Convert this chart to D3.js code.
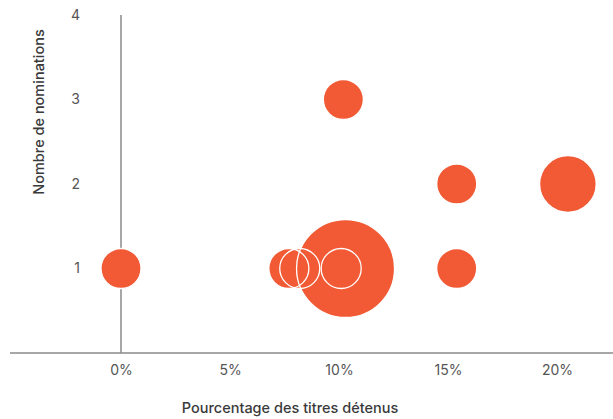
<!DOCTYPE html>
<html>
<head>
    <meta charset="utf-8">
    <script src="https://d3js.org/d3.v7.min.js"></script>
    <style>
        body { margin: 0; background: #fff; }
        svg text { font-family: Inter, Lato, "Noto Sans", sans-serif; }
    </style>
</head>
<body>
    <div id="chart">
        <svg width="613" height="419"></svg>
    </div>
    <script>
        // donnees
        var pourcentages = [0, 7.7, 8.2, 10.3, 10.1, 10.2, 15.4, 15.4, 20.5]
        var nominations = [1, 1, 1, 1, 1, 3, 2, 1, 2]
        var tailles = [1, 1, 1, 6, 1, 1, 1, 1, 2]
        var xTicks = [0, 5, 10, 15, 20]
        var yTicks = [1, 2, 3, 4]

        var data = pourcentages.map(function(p, i) {
            return { pct: p, nom: nominations[i], taille: tailles[i] }
        })

        var svg = d3.select("#chart svg")

        var x = d3.scaleLinear().domain([0, 20]).range([121, 557])
        var y = d3.scaleLinear().domain([0, 4]).range([353, 15])
        var r = d3.scaleSqrt().domain([0, 6]).range([0, 49])

        // axe x (ligne grise sur toute la largeur)
        var xAxis = svg.append("g")
            .attr("transform", "translate(0," + y(0) + ")")
            .call(d3.axisBottom(x).tickValues(xTicks).tickSize(0).tickPadding(12)
                .tickFormat(function(d) { return d + "%" }))
        xAxis.select(".domain").remove()
        xAxis.selectAll("text").style("font-size", "14px").attr("fill", "#555")

        var yAxis = svg.append("g")
            .attr("transform", "translate(" + x(0) + ",0)")
            .call(d3.axisLeft(y).tickValues(yTicks).tickSize(0).tickPadding(41)
                .tickFormat(d3.format("d")))
        yAxis.select(".domain").remove()
        yAxis.selectAll("text").style("font-size", "14px").attr("fill", "#555")

        svg.append("line")
            .attr("x1", 10).attr("x2", 613)
            .attr("y1", y(0)).attr("y2", y(0))
            .attr("stroke", "#8a8a8a").attr("stroke-width", 1.5)
        svg.append("line")
            .attr("x1", x(0)).attr("x2", x(0))
            .attr("y1", y(4)).attr("y2", y(0))
            .attr("stroke", "#8a8a8a").attr("stroke-width", 1.5)

        // bulles : remplissage puis contours blancs par-dessus
        svg.append("g")
            .selectAll("circle")
            .data(data)
            .enter()
            .append("circle")
            .attr("cx", function(d) { return x(d.pct) })
            .attr("cy", function(d) { return y(d.nom) })
            .attr("r", function(d) { return r(d.taille) })
            .attr("fill", "#f15a34")
        svg.append("g")
            .selectAll("circle")
            .data(data)
            .enter()
            .append("circle")
            .attr("cx", function(d) { return x(d.pct) })
            .attr("cy", function(d) { return y(d.nom) })
            .attr("r", function(d) { return r(d.taille) })
            .attr("fill", "none")
            .attr("stroke", "#fff")
            .attr("stroke-width", 1.3)

        // titres
        svg.append("text")
            .attr("x", 290).attr("y", 413)
            .attr("text-anchor", "middle")
            .style("font-size", "14.5px").style("font-weight", 500)
            .attr("fill", "#3a3a3a")
            .text("Pourcentage des titres détenus")
        svg.append("text")
            .attr("transform", "translate(44,112) rotate(-90)")
            .attr("text-anchor", "middle")
            .style("font-size", "14.5px").style("font-weight", 500)
            .attr("fill", "#3a3a3a")
            .text("Nombre de nominations")
    </script>
</body>
</html>
